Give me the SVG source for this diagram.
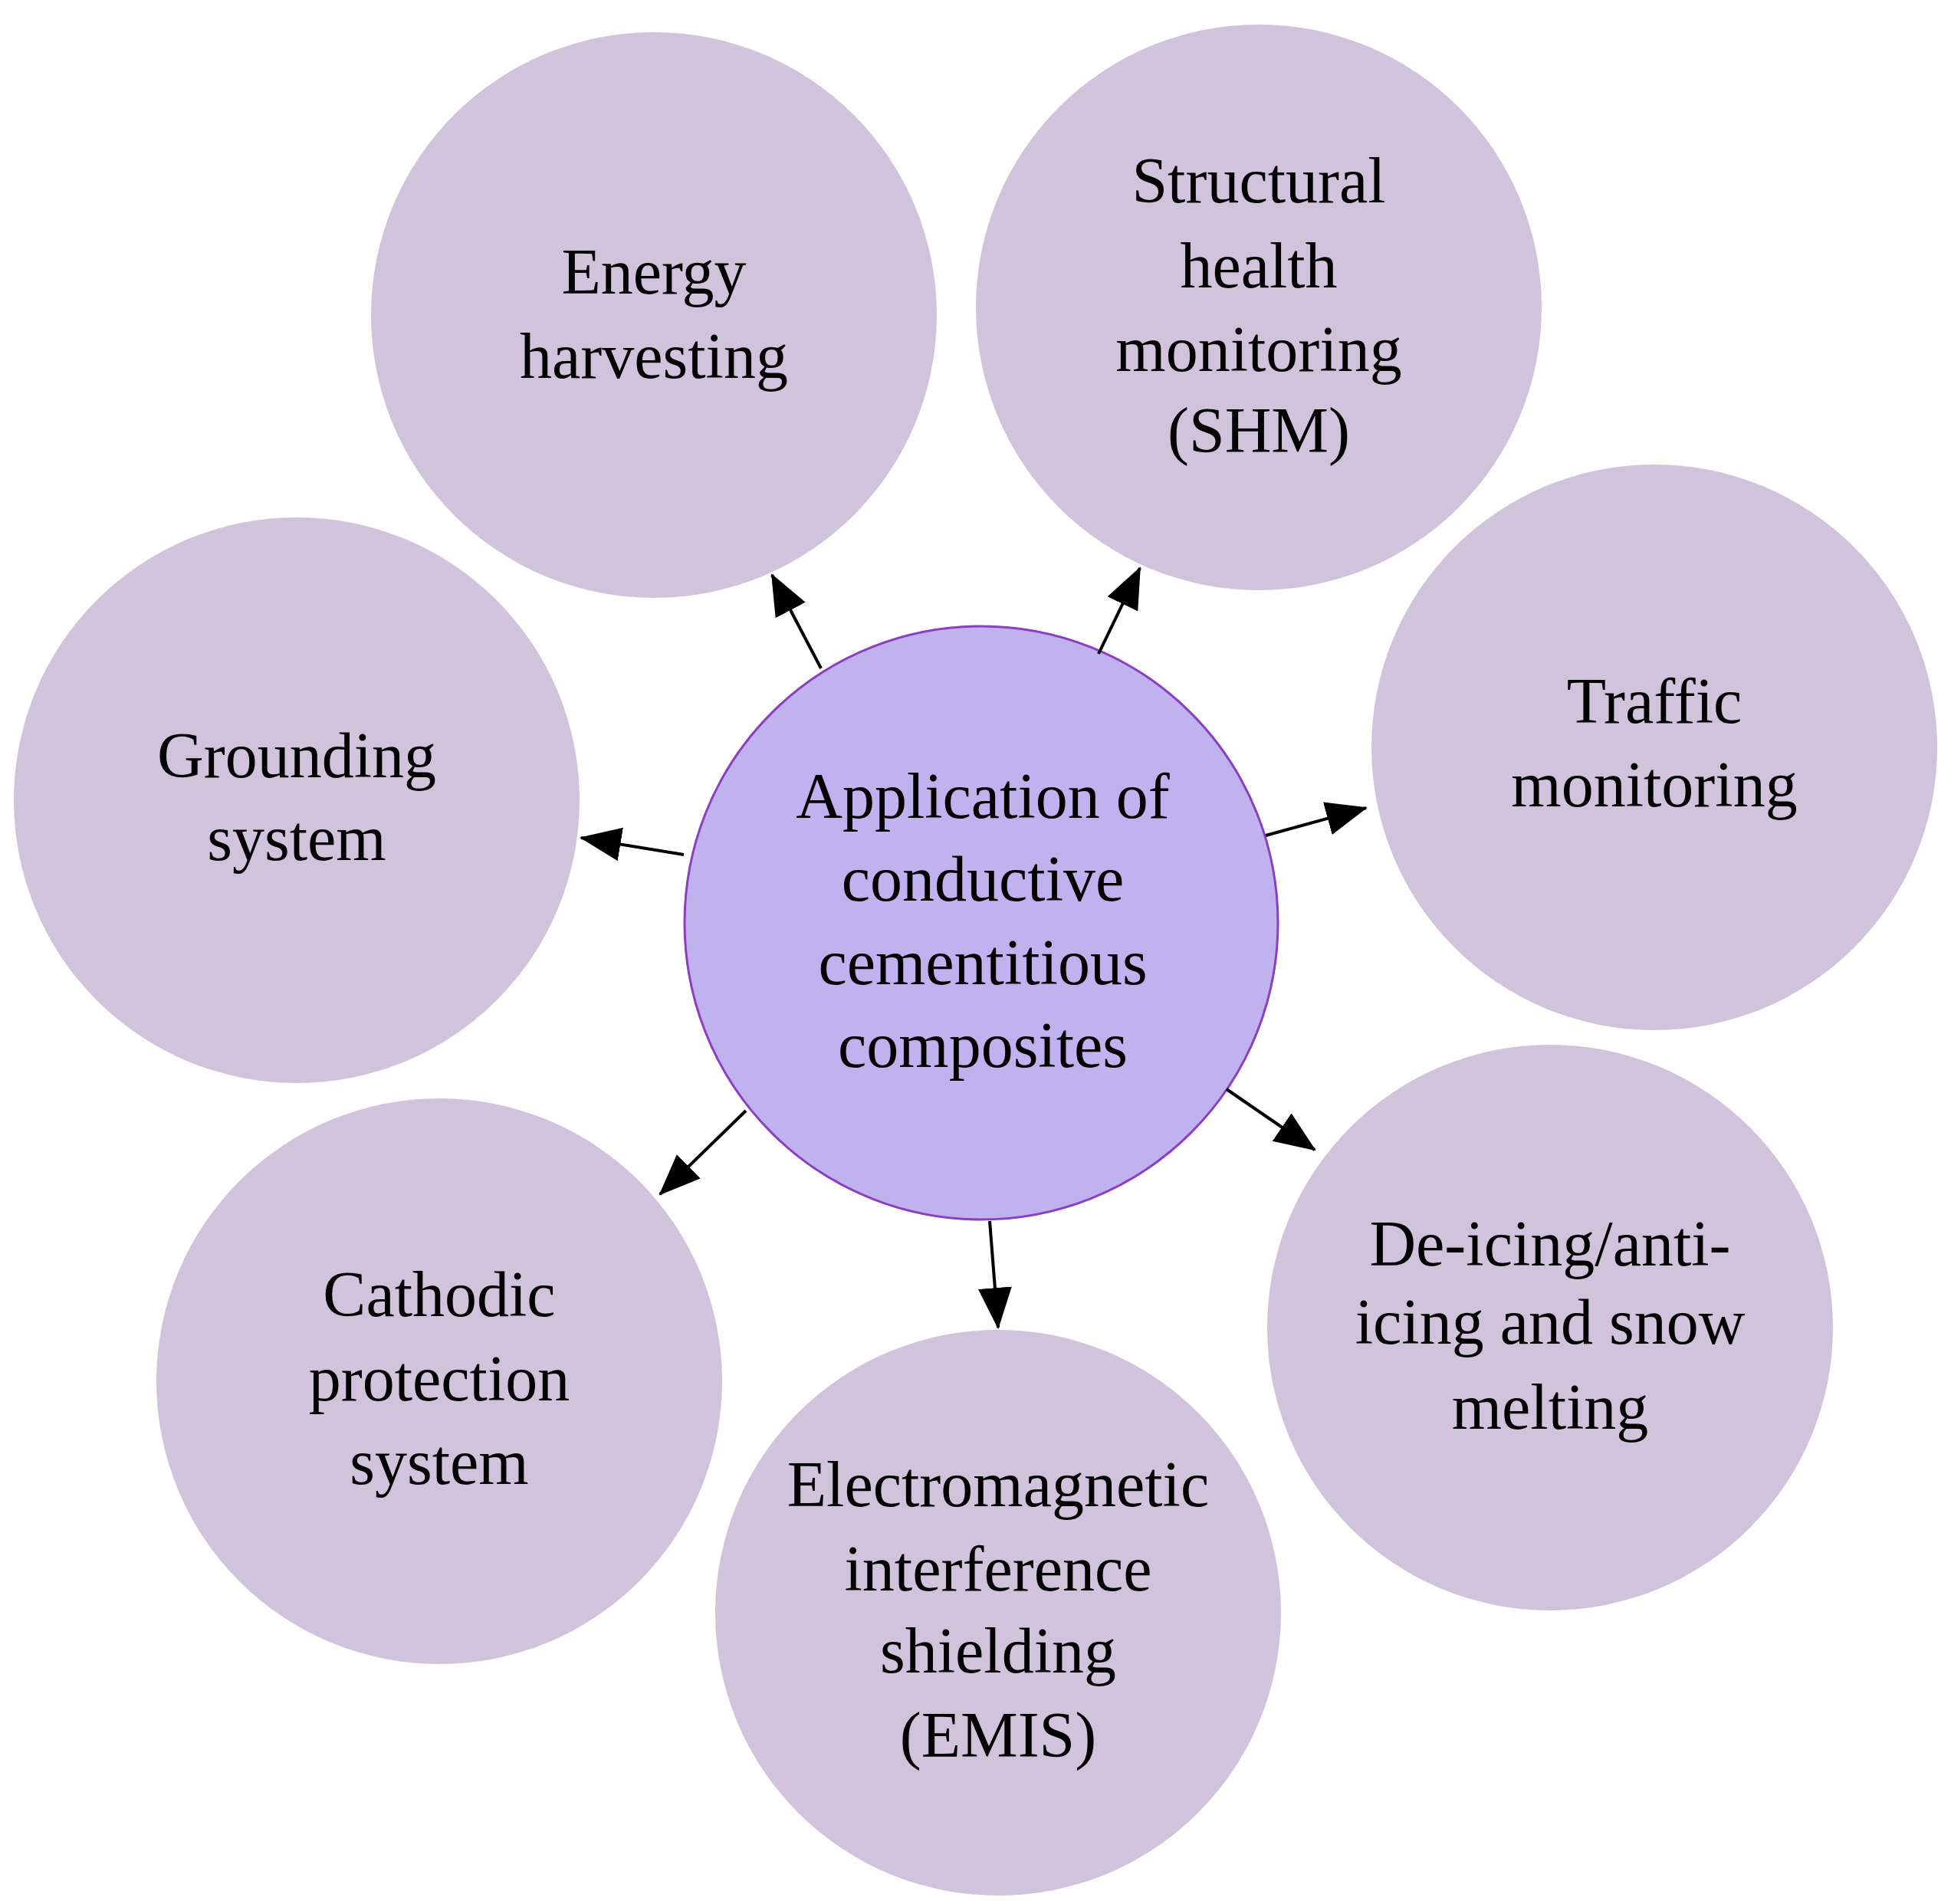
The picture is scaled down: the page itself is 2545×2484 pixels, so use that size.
<svg xmlns="http://www.w3.org/2000/svg" width="2545" height="2484" viewBox="0 0 2545 2484">
<style>
.o{fill:#d1c3dc}
.c{fill:#c0b2ee;stroke:#8b3fc0;stroke-width:3}
text{font-family:"Liberation Serif","Times New Roman",serif;font-size:84px;fill:#000;text-anchor:middle}
.e{stroke:#000;stroke-width:4;fill:none;marker-end:url(#a)}
</style>
<defs><marker id="a" markerUnits="userSpaceOnUse" markerWidth="60" markerHeight="50" refX="52" refY="22" orient="auto" viewBox="0 0 60 50"><path d="M0,0 L54,22 L0,44 Z" fill="#000"/></marker></defs>
<rect width="2545" height="2484" fill="#fff"/>
<g id="n-energy"><circle class="o" cx="853" cy="411" r="369"/><text x="853" y="383">Energy</text><text x="853" y="493">harvesting</text></g>
<g id="n-shm"><circle class="o" cx="1642" cy="401" r="369"/><text x="1642" y="264">Structural</text><text x="1642" y="375">health</text><text x="1642" y="484">monitoring</text><text x="1642" y="590">(SHM)</text></g>
<g id="n-traffic"><circle class="o" cx="2158" cy="975" r="369"/><text x="2158" y="943">Traffic</text><text x="2158" y="1052">monitoring</text></g>
<g id="n-deicing"><circle class="o" cx="2022" cy="1732" r="369"/><text x="2022" y="1651">De-icing/anti-</text><text x="2022" y="1753">icing and snow</text><text x="2022" y="1864">melting</text></g>
<g id="n-emis"><circle class="o" cx="1302" cy="2104" r="369"/><text x="1302" y="1965">Electromagnetic</text><text x="1302" y="2075">interference</text><text x="1302" y="2182">shielding</text><text x="1302" y="2292">(EMIS)</text></g>
<g id="n-cathodic"><circle class="o" cx="573" cy="1802" r="369"/><text x="573" y="1717">Cathodic</text><text x="573" y="1827">protection</text><text x="573" y="1936">system</text></g>
<g id="n-grounding"><circle class="o" cx="387" cy="1044" r="369"/><text x="387" y="1014">Grounding</text><text x="387" y="1122">system</text></g>
<g id="n-center"><circle class="c" cx="1280" cy="1204" r="387"/><text x="1282" y="1067">Application of</text><text x="1282" y="1175">conductive</text><text x="1282" y="1284">cementitious</text><text x="1282" y="1392">composites</text></g>
<g id="connectors">
<line class="e" x1="1071" y1="872" x2="1007" y2="750"/>
<line class="e" x1="1433" y1="853" x2="1487" y2="741"/>
<line class="e" x1="1651" y1="1090" x2="1782" y2="1054"/>
<line class="e" x1="892" y1="1115" x2="758" y2="1093"/>
<line class="e" x1="973" y1="1449" x2="861" y2="1558"/>
<line class="e" x1="1600" y1="1421" x2="1715" y2="1500"/>
<line class="e" x1="1291" y1="1593" x2="1302" y2="1732"/>
</g>
</svg>
